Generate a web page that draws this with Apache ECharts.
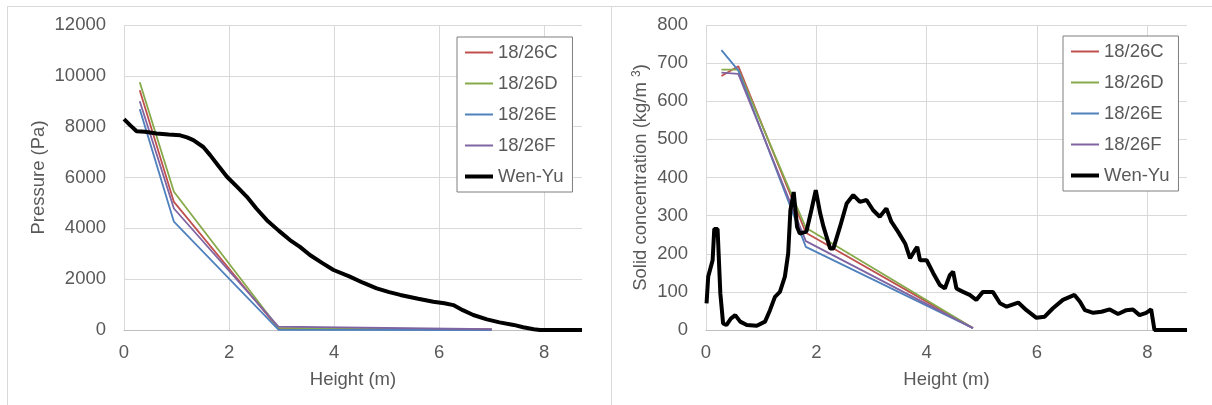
<!DOCTYPE html>
<html>
<head>
<meta charset="utf-8">
<script src="https://cdn.jsdelivr.net/npm/echarts@6/dist/echarts.min.js"></script>
<style>
html, body { margin: 0; padding: 0; background: #fff; }
#frame { position: absolute; left: 7px; top: 6px; width: 1205px; height: 399px; border-top: 1px solid #d9d9d9; border-left: 1px solid #d9d9d9; }
#divider { position: absolute; left: 611px; top: 6px; width: 1px; height: 399px; background: #d9d9d9; }
#chart { position: absolute; left: 0; top: 0; width: 1212px; height: 405px; }
</style>
</head>
<body>
<div id="frame"></div>
<div id="divider"></div>
<div id="chart"></div>
<script>
var seriesNames = ['18/26C', '18/26D', '18/26E', '18/26F', 'Wen-Yu'];

// pressure vs height (left)
var pressureHeights = [0.3, 0.95, 2.94, 7.0];
var pressureC = [9430, 5040, 60, 20];
var pressureD = [9750, 5440, 80, 20];
var pressureE = [8690, 4260, 10, 0];
var pressureF = [9000, 4780, 130, 30];
var wenYuPressureX = [0, 0.12, 0.24, 0.4, 0.62, 0.85, 1.07, 1.2, 1.32, 1.51, 1.64, 1.8, 1.96, 2.15, 2.34, 2.52, 2.72, 2.95, 3.16, 3.35, 3.54, 3.77, 3.99, 4.3, 4.55, 4.81, 5.05, 5.26, 5.6, 5.89, 6.1, 6.27, 6.45, 6.65, 6.91, 7.15, 7.42, 7.6, 7.8, 7.92, 8.72];
var wenYuPressureY = [8300, 8050, 7820, 7800, 7730, 7690, 7660, 7580, 7470, 7200, 6880, 6450, 6030, 5640, 5240, 4780, 4320, 3900, 3540, 3270, 2950, 2640, 2360, 2100, 1860, 1640, 1490, 1380, 1230, 1110, 1050, 980, 780, 590, 420, 300, 200, 110, 30, 0, 0];

// solid concentration vs height (right)
var concHeights = [0.28, 0.585, 1.81, 4.84];
var concC = [666, 692, 255, 5];
var concD = [683, 683, 268, 5];
var concE = [734, 681, 218, 5];
var concF = [675, 672, 233, 5];
var wenYuConcX = [0.01, 0.04, 0.12, 0.15, 0.21, 0.26, 0.31, 0.37, 0.45, 0.53, 0.62, 0.74, 0.92, 1.07, 1.16, 1.25, 1.34, 1.43, 1.49, 1.53, 1.59, 1.65, 1.7, 1.82, 1.91, 1.99, 2.07, 2.13, 2.25, 2.31, 2.43, 2.55, 2.67, 2.79, 2.91, 3.03, 3.15, 3.27, 3.36, 3.48, 3.61, 3.7, 3.79, 3.83, 3.88, 4.0, 4.12, 4.24, 4.33, 4.42, 4.48, 4.54, 4.66, 4.78, 4.9, 5.02, 5.2, 5.33, 5.45, 5.66, 5.81, 5.99, 6.14, 6.29, 6.47, 6.68, 6.78, 6.87, 7.02, 7.17, 7.32, 7.47, 7.62, 7.74, 7.86, 7.98, 8.07, 8.13, 8.72];
var wenYuConcY = [70, 140, 183, 265, 265, 96, 17, 13, 30, 39, 22, 13, 11, 22, 52, 87, 100, 140, 201, 314, 362, 271, 253, 258, 314, 367, 306, 271, 214, 214, 271, 332, 354, 336, 341, 314, 297, 319, 284, 258, 227, 188, 210, 218, 183, 183, 149, 118, 109, 144, 153, 109, 100, 92, 79, 100, 100, 70, 61, 72, 52, 32, 35, 57, 79, 92, 74, 52, 45, 48, 54, 42, 52, 54, 39, 45, 54, 0, 0];

var colors = ['#C0504D', '#86A94A', '#4F81BD', '#8064A2', '#000000'];
var lineWidths = [1.8, 1.8, 1.8, 1.8, 4];
var font = "'Liberation Sans', Arial, sans-serif";
var textColor = '#595959';
var fs = 18.5;

function pairs(xs, ys) {
    var out = [];
    for (var i = 0; i < xs.length; i++) {
        out.push([xs[i], ys[i]]);
    }
    return out;
}

function line(i, idx, data) {
    return {
        name: seriesNames[i], type: 'line', xAxisIndex: idx, yAxisIndex: idx,
        data: data, symbol: 'none', animation: false,
        lineStyle: {color: colors[i], width: lineWidths[i]},
        itemStyle: {color: colors[i]}
    };
}

function xAxis(idx) {
    return {
        type: 'value', gridIndex: idx, min: 0, max: 8.72, interval: 2,
        name: 'Height (m)', nameLocation: 'middle', nameGap: 40,
        nameTextStyle: {fontSize: fs, color: textColor, fontFamily: font},
        axisLine: {show: true, lineStyle: {color: '#bfbfbf', width: 1}},
        axisTick: {show: false},
        axisLabel: {fontSize: fs, color: textColor, fontFamily: font, margin: 13, showMaxLabel: false},
        splitLine: {show: true, showMaxLine: false, lineStyle: {color: '#d9d9d9', width: 1}}
    };
}

function yAxis(idx, max, interval, name, gap) {
    return {
        type: 'value', gridIndex: idx, min: 0, max: max, interval: interval,
        name: name, nameLocation: 'middle', nameGap: gap,
        nameTextStyle: {
            fontSize: fs, color: textColor, fontFamily: font,
            rich: {sup: {fontSize: 12, color: textColor, fontFamily: font, verticalAlign: 'top'}}
        },
        axisLine: {show: false},
        axisTick: {show: false},
        axisLabel: {
            fontSize: fs, color: textColor, fontFamily: font, margin: 18,
            formatter: function (v) { return String(v); }
        },
        splitLine: {show: true, lineStyle: {color: '#d9d9d9', width: 1}}
    };
}

// the legend's built-in dot is made invisible, only the line sample stays
function legend(left, top) {
    return {
        left: left, top: top, orient: 'vertical',
        itemWidth: 28, itemHeight: 14, itemGap: 12,
        padding: [6, 9, 6, 6],
        borderColor: '#7f7f7f', borderWidth: 1, backgroundColor: '#fff',
        itemStyle: {opacity: 0},
        textStyle: {fontSize: fs, color: textColor, fontFamily: font},
        data: seriesNames.map(function (n, i) {
            return {name: n, lineStyle: {width: lineWidths[i] > 2 ? 4 : 2}};
        })
    };
}

var chart = echarts.init(document.getElementById('chart'));
chart.setOption({
    animation: false,
    textStyle: {fontFamily: font},
    grid: [
        {left: 124, top: 25, width: 458, bottom: 75},
        {left: 706, top: 25, width: 481, bottom: 75}
    ],
    xAxis: [xAxis(0), xAxis(1)],
    yAxis: [
        yAxis(0, 12000, 2000, 'Pressure (Pa)', 76),
        yAxis(1, 800, 100, 'Solid concentration (kg/m {sup|3})', 56)
    ],
    legend: [legend(457, 37), legend(1063, 36)],
    series: [
        line(0, 0, pairs(pressureHeights, pressureC)),
        line(1, 0, pairs(pressureHeights, pressureD)),
        line(2, 0, pairs(pressureHeights, pressureE)),
        line(3, 0, pairs(pressureHeights, pressureF)),
        line(4, 0, pairs(wenYuPressureX, wenYuPressureY)),
        line(0, 1, pairs(concHeights, concC)),
        line(1, 1, pairs(concHeights, concD)),
        line(2, 1, pairs(concHeights, concE)),
        line(3, 1, pairs(concHeights, concF)),
        line(4, 1, pairs(wenYuConcX, wenYuConcY))
    ]
});
</script>
</body>
</html>
